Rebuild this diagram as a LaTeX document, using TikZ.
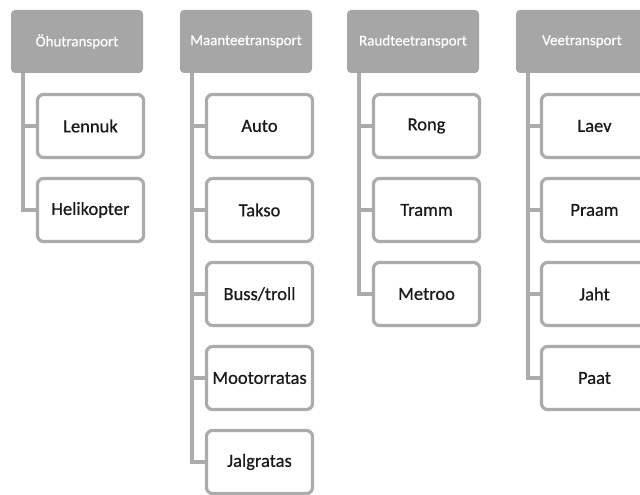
\documentclass[tikz,border=0pt]{standalone}
\usepackage{fontspec}
\setmainfont{Carlito}
\newfontfamily\medfont[FakeBold=0.6]{Carlito}
\definecolor{hdr}{HTML}{A6A6A6}
\definecolor{brd}{HTML}{ABABAB}
\definecolor{txt}{HTML}{1A1A1A}
\begin{document}
\begin{tikzpicture}[x=1pt,y=-1pt,
  header/.style={fill=hdr, draw=none, rounded corners=4pt, minimum width=132pt, minimum height=63pt, inner sep=0pt, text=white, font=\medfont\fontsize{15}{18}\selectfont},
  child/.style={draw=brd, line width=3.2pt, fill=white, rounded corners=6pt, minimum width=106pt, minimum height=63pt, inner sep=0pt, text=txt, font=\medfont\fontsize{18.5}{22}\selectfont},
  conn/.style={draw=brd, line width=3.4pt}]
\useasboundingbox (0,0) rectangle (640,495);
\clip (0,0) rectangle (640,495);
\fill[white] (0,0) rectangle (640,495);
% headers
\node[header] (h1) at (77,41.5) {Öhutransport};
\node[header] (h2) at (246,41.5) {Maanteetransport};
\node[header] (h3) at (413,41.5) {Raudteetransport};
\node[header] (h4) at (582,41.5) {Veetransport};
% connector anchors
\coordinate (l1) at ([xshift=12pt]h1.south west);
\coordinate (l2) at ([xshift=12pt]h2.south west);
\coordinate (l3) at ([xshift=12pt]h3.south west);
\coordinate (l4) at ([xshift=12pt]h4.south west);
% children column 1
\node[child] (c1a) at (90.5,126) {Lennuk};
\node[child] (c1b) at (90.5,210) {Helikopter};
% column 2
\node[child] (c2a) at (259.5,126) {Auto};
\node[child] (c2b) at (259.5,210) {Takso};
\node[child] (c2c) at (259.5,294) {Buss/troll};
\node[child] (c2d) at (259.5,378) {Mootorratas};
\node[child] (c2e) at (259.5,462) {Jalgratas};
% column 3
\node[child] (c3a) at (426.5,126) {Rong};
\node[child] (c3b) at (426.5,210) {Tramm};
\node[child] (c3c) at (426.5,294) {Metroo};
% column 4
\node[child] (c4a) at (594.5,126) {Laev};
\node[child] (c4b) at (594.5,210) {Praam};
\node[child] (c4c) at (594.5,294) {Jaht};
\node[child] (c4d) at (594.5,378) {Paat};
% connectors
\draw[conn] (l1) |- (c1b.west);
\draw[conn] (l1 |- c1a.west) -- (c1a.west);
\draw[conn] (l2) |- (c2e.west);
\foreach \c in {c2a,c2b,c2c,c2d} \draw[conn] (l2 |- \c.west) -- (\c.west);
\draw[conn] (l3) |- (c3c.west);
\foreach \c in {c3a,c3b} \draw[conn] (l3 |- \c.west) -- (\c.west);
\draw[conn] (l4) |- (c4d.west);
\foreach \c in {c4a,c4b,c4c} \draw[conn] (l4 |- \c.west) -- (\c.west);
\end{tikzpicture}
\end{document}
